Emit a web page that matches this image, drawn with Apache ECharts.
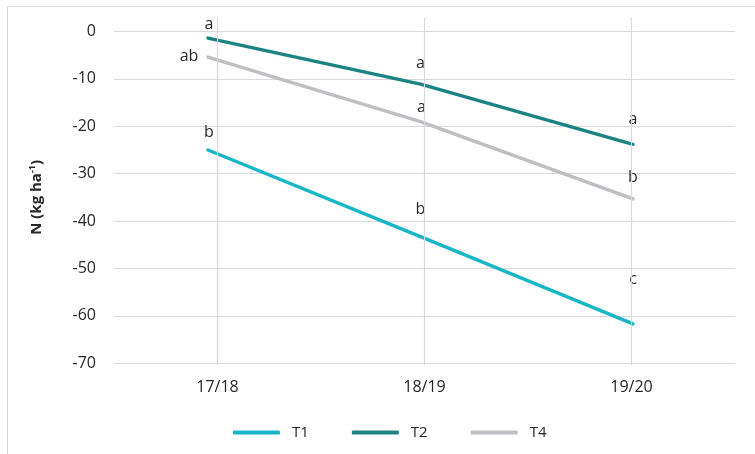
<!DOCTYPE html>
<html>
<head>
<meta charset="utf-8">
<script src="https://cdn.jsdelivr.net/npm/echarts@6/dist/echarts.min.js"></script>
<style>
  html, body { margin: 0; padding: 0; background: #ffffff; }
  #chart { width: 755px; height: 454px; }
</style>
</head>
<body>
<div id="chart"></div>
<script>
// Seasons on the x axis
const seasons = ['17/18', '18/19', '19/20'];

// Nitrogen balance per treatment (kg ha-1)
const t1Values = [-25.0, -43.3, -61.7];
const t2Values = [-1.4, -11.1, -23.8];
const t4Values = [-5.4, -19.0, -35.3];

// Significance letters shown beside each point
const t1Letters = ['b', 'b', 'c'];
const t2Letters = ['a', 'a', 'a'];
const t4Letters = ['ab', 'a', 'b'];

// Y axis ticks
const yMin = -70;
const yMax = 0;
const yStep = 10;

// Label placement relative to each point, [dx, dy] in pixels
const t1LabelOffsets = [[1, -18], [0, -27], [0, -45]];
const t2LabelOffsets = [[1, -14], [0, -21], [0, -25]];
const t4LabelOffsets = [[-19, -1], [1, -14], [0, -21]];

const textColor = '#262626';
const gridColor = '#d9d9d9';
const fontFamily = '"Open Sans", "Noto Sans", sans-serif';

function withLetters(values, letters, offsets) {
  return values.map((v, i) => ({
    value: v,
    label: { formatter: letters[i], offset: offsets[i] }
  }));
}

function lineSeries(name, color, values, letters, offsets) {
  return {
    name: name,
    type: 'line',
    xAxisIndex: 1,
    yAxisIndex: 1,
    data: withLetters(values, letters, offsets),
    symbol: 'circle',
    symbolSize: 0,
    showSymbol: true,
    lineStyle: { color: color, width: 3.5, cap: 'round', join: 'round' },
    itemStyle: { color: color },
    label: {
      show: true,
      position: 'inside',
      color: textColor,
      fontSize: 16,
      fontFamily: fontFamily
    },
    emphasis: { disabled: true },
    z: 3,
    animation: false
  };
}

const chart = echarts.init(document.getElementById('chart'), null, { renderer: 'canvas' });

chart.setOption({
  backgroundColor: '#ffffff',
  animation: false,
  textStyle: { fontFamily: fontFamily },
  graphic: [{
    type: 'rect',
    shape: { x: 7.5, y: 6.5, width: 800, height: 500 },
    style: { fill: 'none', stroke: gridColor, lineWidth: 1 },
    silent: true,
    z: -10
  }],
  grid: [
    // axes, labels and horizontal grid
    { left: 114, right: 20, top: 31.5, bottom: 90.7 },
    // data lines
    { left: 101.75, right: 15.75, top: 31.5, bottom: 90.7 },
    // vertical season lines, running a little past the plot
    { left: 114, right: 20, top: 17.5, bottom: 88.7 }
  ],
  legend: {
    left: 233,
    top: 425,
    padding: 0,
    icon: 'roundRect',
    itemWidth: 47,
    itemHeight: 4,
    itemGap: 43,
    textStyle: { color: textColor, fontSize: 15, fontFamily: fontFamily, padding: [0, 0, 0, 7] },
    data: ['T1', 'T2', 'T4']
  },
  xAxis: [
    {
      type: 'category',
      gridIndex: 0,
      data: seasons,
      boundaryGap: true,
      axisLine: { show: false },
      axisTick: { show: false },
      axisLabel: { color: textColor, fontSize: 16, margin: 16, fontFamily: fontFamily },
      splitLine: { show: false }
    },
    { type: 'category', gridIndex: 1, data: seasons, boundaryGap: true, show: false },
    { type: 'category', gridIndex: 2, data: seasons, boundaryGap: true, show: false }
  ],
  yAxis: [
    {
      type: 'value',
      gridIndex: 0,
      min: yMin,
      max: yMax,
      interval: yStep,
      axisLine: { show: false },
      axisTick: { show: false },
      axisLabel: { color: textColor, fontSize: 16, margin: 18, fontFamily: fontFamily },
      splitLine: { lineStyle: { color: gridColor, width: 1 } },
      name: '{n|N (kg ha}{s|-1}{n|)}',
      nameLocation: 'middle',
      nameRotate: 90,
      nameGap: 68,
      nameTextStyle: {
        rich: {
          n: { fontSize: 15, fontWeight: 'bold', color: textColor, fontFamily: fontFamily, lineHeight: 18 },
          s: { fontSize: 9, fontWeight: 'bold', color: textColor, fontFamily: fontFamily, lineHeight: 18, verticalAlign: 'top', padding: [0, 0, 8, 0] }
        }
      }
    },
    { type: 'value', gridIndex: 1, min: yMin, max: yMax, interval: yStep, show: false },
    { type: 'value', gridIndex: 2, min: yMin, max: yMax, interval: yStep, show: false }
  ],
  series: [
    {
      name: 'season-lines',
      type: 'line',
      xAxisIndex: 2,
      yAxisIndex: 2,
      data: [],
      silent: true,
      z: 1,
      markLine: {
        silent: true,
        symbol: ['none', 'none'],
        label: { show: false },
        lineStyle: { color: gridColor, width: 1.2, type: 'solid' },
        emphasis: { disabled: true },
        data: seasons.map(s => ({ xAxis: s }))
      }
    },
    lineSeries('T1', '#19b6c8', t1Values, t1Letters, t1LabelOffsets),
    lineSeries('T2', '#1c8383', t2Values, t2Letters, t2LabelOffsets),
    lineSeries('T4', '#bfbfc3', t4Values, t4Letters, t4LabelOffsets)
  ]
});
</script>
</body>
</html>
